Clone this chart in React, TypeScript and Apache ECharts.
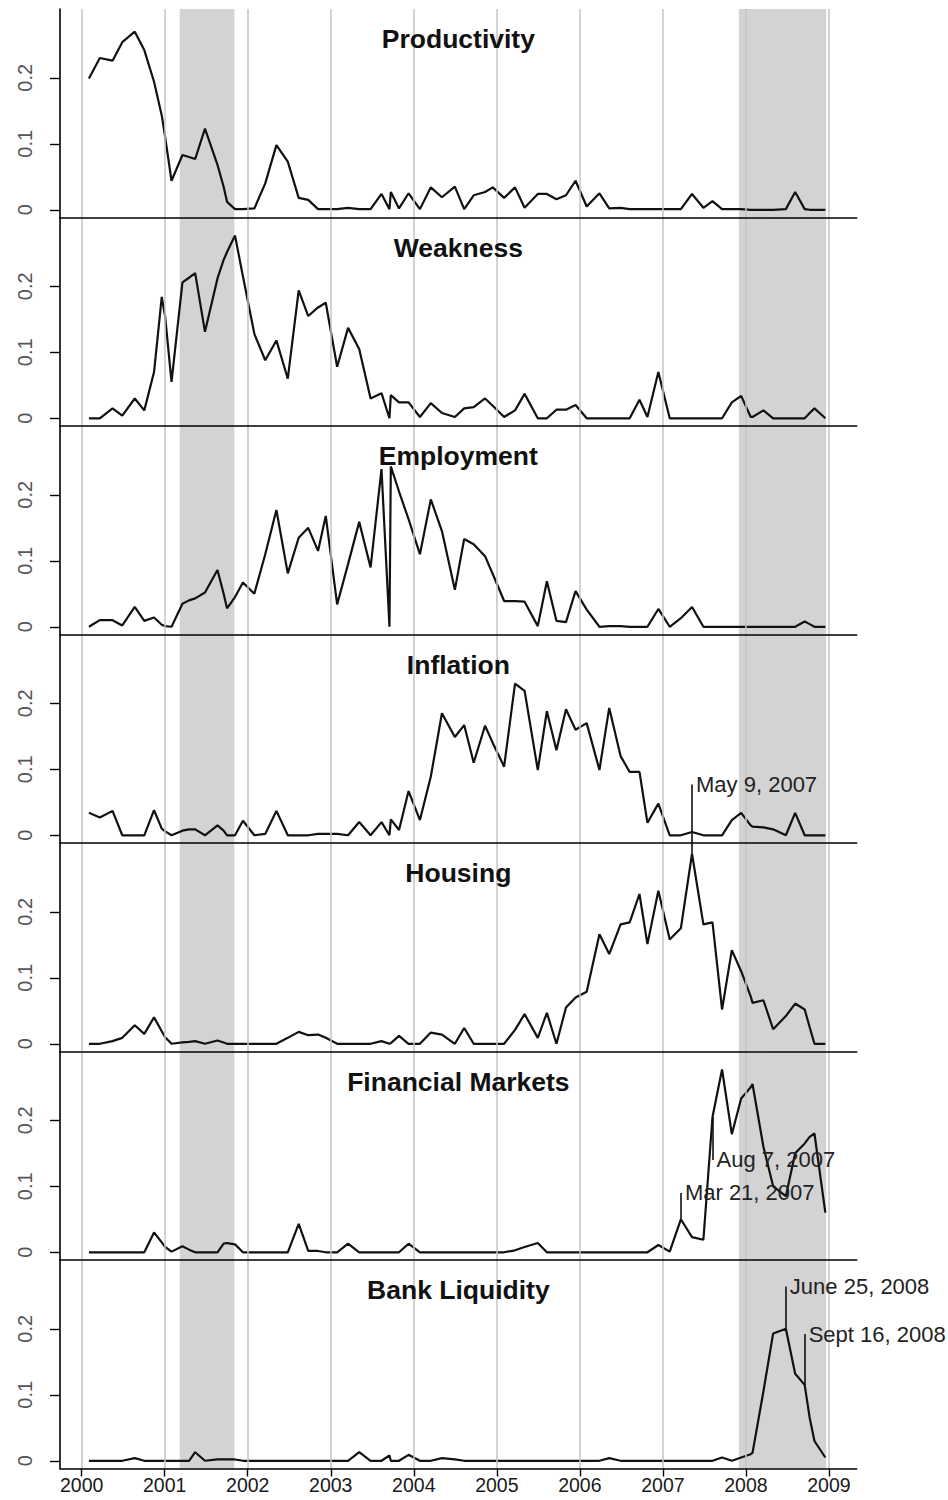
import React, { useEffect, useRef } from "react";
import * as echarts from "echarts";

// FOMC statement dates (x positions of every series point)
const DATES = [
  "2000-02-02", "2000-03-21", "2000-05-16", "2000-06-28", "2000-08-22", "2000-10-03", "2000-11-15", "2000-12-19",
  "2001-01-03", "2001-01-31", "2001-03-20", "2001-04-18", "2001-05-15", "2001-06-27", "2001-08-21", "2001-09-17", "2001-10-02", "2001-11-06", "2001-12-11",
  "2002-01-30", "2002-03-19", "2002-05-07", "2002-06-26", "2002-08-13", "2002-09-24", "2002-11-06", "2002-12-10",
  "2003-01-29", "2003-03-18", "2003-05-06", "2003-06-25", "2003-08-12", "2003-09-16", "2003-09-22", "2003-10-28", "2003-12-09",
  "2004-01-28", "2004-03-16", "2004-05-04", "2004-06-30", "2004-08-10", "2004-09-21", "2004-11-10", "2004-12-14",
  "2005-02-02", "2005-03-22", "2005-05-03", "2005-06-30", "2005-08-09", "2005-09-20", "2005-11-01", "2005-12-13",
  "2006-01-31", "2006-03-28", "2006-05-10", "2006-06-29", "2006-08-08", "2006-09-20", "2006-10-25", "2006-12-12",
  "2007-01-31", "2007-03-21", "2007-05-09", "2007-06-28", "2007-08-07", "2007-09-18", "2007-10-31", "2007-12-11",
  "2008-01-22", "2008-01-30", "2008-03-18", "2008-04-30", "2008-06-25", "2008-08-05", "2008-09-16", "2008-10-08", "2008-10-29", "2008-12-16",
];

const TITLES = ["Productivity", "Weakness", "Employment", "Inflation", "Housing", "Financial Markets", "Bank Liquidity"];

const PRODUCTIVITY = [
  0.199, 0.230, 0.226, 0.254, 0.270, 0.242, 0.194, 0.143,
  0.110, 0.044, 0.083, 0.080, 0.077, 0.123, 0.068, 0.035, 0.012, 0.001, 0.001,
  0.002, 0.040, 0.098, 0.073, 0.018, 0.015, 0.001, 0.001,
  0.001, 0.003, 0.001, 0.001, 0.024, 0.001, 0.027, 0.002, 0.025,
  0.001, 0.034, 0.019, 0.035, 0.001, 0.022, 0.027, 0.034,
  0.018, 0.034, 0.003, 0.024, 0.024, 0.016, 0.022, 0.044,
  0.005, 0.025, 0.002, 0.003, 0.001, 0.001, 0.001, 0.001,
  0.001, 0.001, 0.024, 0.003, 0.013, 0.001, 0.001, 0.001,
  0.000, 0.000, 0.000, 0.000, 0.001, 0.027, 0.001, 0.000, 0.000, 0.000,
];

const WEAKNESS = [
  0.000, 0.000, 0.015, 0.004, 0.030, 0.012, 0.070, 0.184,
  0.154, 0.055, 0.206, 0.213, 0.220, 0.131, 0.212, 0.240, 0.252, 0.277, 0.215,
  0.128, 0.088, 0.118, 0.060, 0.194, 0.155, 0.168, 0.175,
  0.078, 0.137, 0.105, 0.030, 0.038, 0.000, 0.035, 0.024, 0.024,
  0.002, 0.023, 0.008, 0.002, 0.015, 0.017, 0.030, 0.019,
  0.002, 0.012, 0.037, 0.000, 0.000, 0.013, 0.013, 0.020,
  0.000, 0.000, 0.000, 0.000, 0.000, 0.028, 0.002, 0.070,
  0.000, 0.000, 0.000, 0.000, 0.000, 0.000, 0.024, 0.034,
  0.002, 0.002, 0.012, 0.000, 0.000, 0.000, 0.000, 0.008, 0.015, 0.000,
];

const EMPLOYMENT = [
  0.000, 0.010, 0.010, 0.002, 0.030, 0.009, 0.014, 0.003,
  0.001, 0.000, 0.035, 0.040, 0.043, 0.052, 0.086, 0.050, 0.028, 0.045, 0.067,
  0.050, 0.110, 0.177, 0.081, 0.135, 0.150, 0.115, 0.168,
  0.034, 0.095, 0.159, 0.090, 0.239, 0.000, 0.243, 0.205, 0.163,
  0.110, 0.193, 0.145, 0.056, 0.133, 0.125, 0.107, 0.080,
  0.039, 0.039, 0.038, 0.001, 0.069, 0.009, 0.007, 0.054,
  0.026, 0.000, 0.001, 0.001, 0.000, 0.000, 0.000, 0.027,
  0.000, 0.013, 0.030, 0.000, 0.000, 0.000, 0.000, 0.000,
  0.000, 0.000, 0.000, 0.000, 0.000, 0.000, 0.008, 0.004, 0.000, 0.000,
];

const INFLATION = [
  0.034, 0.027, 0.037, 0.000, 0.000, 0.000, 0.038, 0.010,
  0.006, 0.000, 0.007, 0.009, 0.009, 0.000, 0.015, 0.007, 0.000, 0.000, 0.022,
  0.000, 0.002, 0.037, 0.000, 0.000, 0.000, 0.002, 0.002,
  0.002, 0.000, 0.020, 0.000, 0.020, 0.000, 0.024, 0.008, 0.067,
  0.023, 0.089, 0.185, 0.149, 0.167, 0.110, 0.166, 0.140,
  0.104, 0.230, 0.219, 0.099, 0.188, 0.129, 0.191, 0.160,
  0.170, 0.099, 0.193, 0.120, 0.096, 0.096, 0.019, 0.048,
  0.000, 0.000, 0.005, 0.000, 0.000, 0.000, 0.023, 0.034,
  0.015, 0.013, 0.012, 0.009, 0.000, 0.034, 0.000, 0.000, 0.000, 0.000,
];

const HOUSING = [
  0.000, 0.000, 0.004, 0.009, 0.028, 0.015, 0.040, 0.019,
  0.010, 0.000, 0.002, 0.003, 0.004, 0.000, 0.005, 0.002, 0.000, 0.000, 0.000,
  0.000, 0.000, 0.000, 0.009, 0.018, 0.013, 0.014, 0.009,
  0.000, 0.000, 0.000, 0.000, 0.004, 0.000, 0.001, 0.012, 0.000,
  0.000, 0.017, 0.014, 0.000, 0.024, 0.000, 0.000, 0.000,
  0.000, 0.021, 0.045, 0.009, 0.047, 0.000, 0.055, 0.070,
  0.079, 0.166, 0.136, 0.181, 0.184, 0.227, 0.151, 0.232,
  0.158, 0.175, 0.288, 0.181, 0.184, 0.052, 0.142, 0.110,
  0.072, 0.062, 0.066, 0.022, 0.042, 0.061, 0.052, 0.025, 0.000, 0.000,
];

const FINANCIAL_MARKETS = [
  0.000, 0.000, 0.000, 0.000, 0.000, 0.000, 0.030, 0.015,
  0.008, 0.001, 0.009, 0.004, 0.000, 0.000, 0.000, 0.013, 0.014, 0.012, 0.000,
  0.000, 0.000, 0.000, 0.000, 0.043, 0.002, 0.002, 0.000,
  0.000, 0.013, 0.000, 0.000, 0.000, 0.000, 0.000, 0.000, 0.013,
  0.000, 0.000, 0.000, 0.000, 0.000, 0.000, 0.000, 0.000,
  0.000, 0.003, 0.008, 0.014, 0.000, 0.000, 0.000, 0.000,
  0.000, 0.000, 0.000, 0.000, 0.000, 0.000, 0.000, 0.011,
  0.001, 0.050, 0.023, 0.019, 0.205, 0.277, 0.179, 0.233,
  0.250, 0.255, 0.160, 0.100, 0.085, 0.150, 0.165, 0.175, 0.180, 0.060,
];

const BANK_LIQUIDITY = [
  0.000, 0.000, 0.000, 0.000, 0.004, 0.000, 0.000, 0.000,
  0.000, 0.000, 0.000, 0.000, 0.013, 0.000, 0.002, 0.002, 0.002, 0.002, 0.000,
  0.000, 0.000, 0.000, 0.000, 0.000, 0.000, 0.000, 0.000,
  0.000, 0.000, 0.013, 0.000, 0.000, 0.008, 0.000, 0.000, 0.009,
  0.000, 0.000, 0.004, 0.002, 0.000, 0.000, 0.000, 0.000,
  0.000, 0.000, 0.000, 0.000, 0.000, 0.000, 0.000, 0.000,
  0.000, 0.000, 0.004, 0.000, 0.000, 0.000, 0.000, 0.000,
  0.000, 0.000, 0.000, 0.000, 0.000, 0.005, 0.000, 0.005,
  0.010, 0.012, 0.105, 0.193, 0.200, 0.132, 0.115, 0.065, 0.030, 0.005,
];

const SERIES_VALUES = [PRODUCTIVITY, WEAKNESS, EMPLOYMENT, INFLATION, HOUSING, FINANCIAL_MARKETS, BANK_LIQUIDITY];

const YEAR_TICKS = [2000, 2001, 2002, 2003, 2004, 2005, 2006, 2007, 2008, 2009];
const Y_TICKS = [0, 0.1, 0.2];

// NBER recessions (shaded)
const RECESSIONS = [
  ["2001-03-08", "2001-11-03"],
  ["2007-12-01", "2008-12-20"],
];

const ANNOTATIONS = [
  { text: "May 9, 2007", date: "2007-05-09", dataPanel: 4, labelPanel: 3, labelY: 0.077 },
  { text: "Mar 21, 2007", date: "2007-03-21", dataPanel: 5, labelPanel: 5, labelY: 0.09 },
  { text: "Aug 7, 2007", date: "2007-08-07", dataPanel: 5, labelPanel: 5, labelY: 0.14 },
  { text: "June 25, 2008", date: "2008-06-25", dataPanel: 6, labelPanel: 6, labelY: 0.264 },
  { text: "Sept 16, 2008", date: "2008-09-16", dataPanel: 6, labelPanel: 6, labelY: 0.192 },
];

// layout
const FONT = '"Liberation Sans", Arial, Helvetica, sans-serif';
const LEFT = 60;
const WIDTH = 796.7;
const TOP = 9;
const PANEL_H = 208.5;
const X_MIN = 1999.739;
const X_MAX = 2009.334;
const Y_MIN = -0.0117;
const Y_MAX = 0.3043;

const toYear = (s: string) => {
  const [y, m, d] = s.split("-").map(Number);
  const start = Date.UTC(y, 0, 1);
  const end = Date.UTC(y + 1, 0, 1);
  return y + (Date.UTC(y, m - 1, d) - start) / (end - start);
};

function buildOption() {
  const n = TITLES.length;
  const grid = TITLES.map((_, i) => ({ left: LEFT, width: WIDTH, top: TOP + i * PANEL_H, height: PANEL_H }));
  const xAxis = TITLES.map((_, i) => {
    const last = i === n - 1;
    return {
      type: "value",
      gridIndex: i,
      min: X_MIN,
      max: X_MAX,
      z: 6,
      axisLine: { show: true, onZero: false, lineStyle: { color: "#000", width: 1.6 } },
      axisTick: { show: last, customValues: YEAR_TICKS, length: 8, lineStyle: { color: "#000", width: 1.4 } },
      axisLabel: {
        show: last,
        customValues: YEAR_TICKS,
        formatter: (v: number) => String(Math.round(v)),
        margin: 6,
        fontSize: 19.5,
        color: "#1a1a1a",
        fontFamily: FONT,
      },
      splitLine: { show: false },
    };
  });
  const yAxis = TITLES.map((_, i) => ({
    type: "value",
    gridIndex: i,
    min: Y_MIN,
    max: Y_MAX,
    z: 6,
    axisLine: { show: true, onZero: false, lineStyle: { color: "#000", width: 1.6 } },
    axisTick: { show: true, customValues: Y_TICKS, length: 10, lineStyle: { color: "#000", width: 1.4 } },
    axisLabel: {
      show: true,
      customValues: Y_TICKS,
      rotate: 90,
      margin: 25,
      fontSize: 20,
      color: "#555",
      fontFamily: FONT,
      formatter: (v: number) => (v === 0 ? "0" : String(Math.round(v * 10) / 10)),
    },
    splitLine: { show: false },
  }));

  const series: any[] = [];
  TITLES.forEach((name, i) => {
    series.push({
      type: "line",
      name: name + " recessions",
      xAxisIndex: i,
      yAxisIndex: i,
      data: [],
      z: 1,
      silent: true,
      markArea: {
        silent: true,
        itemStyle: { color: "#d3d3d3" },
        data: RECESSIONS.map((r) => [{ xAxis: toYear(r[0]) }, { xAxis: toYear(r[1]) }]),
      },
    });
    series.push({
      type: "line",
      name: name + " years",
      xAxisIndex: i,
      yAxisIndex: i,
      data: [],
      z: 2,
      silent: true,
      markLine: {
        silent: true,
        symbol: ["none", "none"],
        label: { show: false },
        lineStyle: { color: "#c4c4c4", width: 1.5, type: "solid" },
        data: YEAR_TICKS.map((y) => ({ xAxis: y })),
      },
    });
    series.push({
      type: "line",
      name,
      xAxisIndex: i,
      yAxisIndex: i,
      z: 3,
      showSymbol: false,
      symbol: "none",
      lineStyle: { color: "#111", width: 2.2 },
      data: DATES.map((d, j) => [toYear(d), SERIES_VALUES[i][j]]),
    });
  });

  // annotations
  ANNOTATIONS.forEach((a) => {
    const x = toYear(a.date);
    const v = SERIES_VALUES[a.dataPanel][DATES.indexOf(a.date)];
    const segs: { panel: number; y1: number; y2: number }[] = [];
    if (a.dataPanel === a.labelPanel) {
      segs.push({ panel: a.dataPanel, y1: v, y2: a.labelY });
    } else {
      segs.push({ panel: a.labelPanel, y1: a.labelY, y2: Y_MIN });
      segs.push({ panel: a.dataPanel, y1: Y_MAX, y2: v });
    }
    segs.forEach((s) => {
      series.push({
        type: "line",
        xAxisIndex: s.panel,
        yAxisIndex: s.panel,
        data: [],
        z: 4,
        silent: true,
        markLine: {
          silent: true,
          symbol: ["none", "none"],
          label: { show: false },
          lineStyle: { color: "#111", width: 1.6, type: "solid" },
          data: [[{ coord: [x, s.y1] }, { coord: [x, s.y2] }]],
        },
      });
    });
    series.push({
      type: "line",
      xAxisIndex: a.labelPanel,
      yAxisIndex: a.labelPanel,
      data: [],
      z: 5,
      silent: true,
      markPoint: {
        silent: true,
        symbol: "circle",
        symbolSize: 0.01,
        itemStyle: { color: "transparent" },
        label: {
          show: true,
          position: "right",
          distance: 4,
          formatter: "{b}",
          color: "#222",
          fontSize: 22,
          fontFamily: FONT,
        },
        data: [{ name: a.text, coord: [x, a.labelY] }],
      },
    });
  });

  const graphic = TITLES.map((t, i) => ({
    type: "text",
    x: LEFT + WIDTH / 2,
    y: TOP + i * PANEL_H + 30,
    z: 10,
    style: {
      text: t,
      fontSize: 26.5,
      fontWeight: "bold",
      fontFamily: FONT,
      fill: "#111",
      align: "center",
      verticalAlign: "middle",
    },
  }));

  return {
    animation: false,
    backgroundColor: "#fff",
    textStyle: { fontFamily: FONT },
    grid,
    xAxis,
    yAxis,
    series,
    graphic,
  };
}

export default function App() {
  const ref = useRef<HTMLDivElement>(null);
  useEffect(() => {
    if (!ref.current) return;
    const chart = echarts.init(ref.current, null, { renderer: "svg" });
    chart.setOption(buildOption() as any);
    return () => chart.dispose();
  }, []);
  return (
    <div
      ref={ref}
      style={{ position: "absolute", left: 0, top: 0, width: 948, height: 1500, background: "#fff" }}
    />
  );
}
